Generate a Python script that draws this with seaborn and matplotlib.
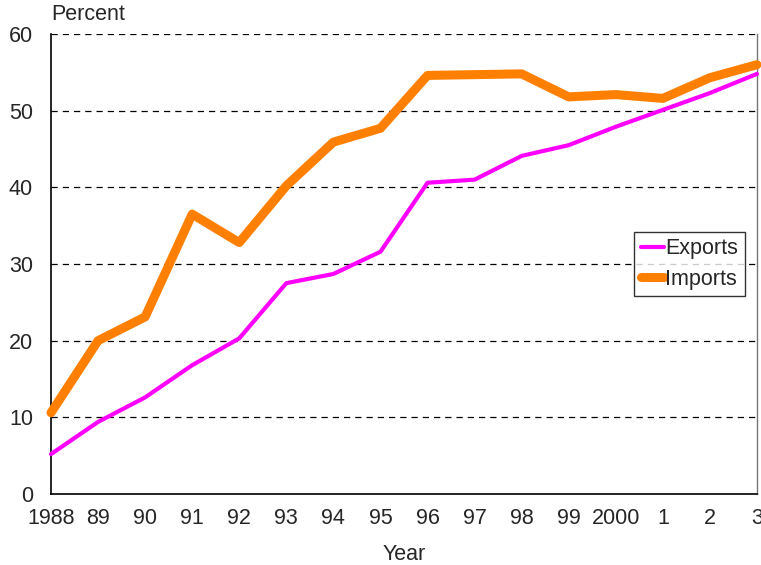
import matplotlib
matplotlib.use("Agg")
import matplotlib.pyplot as plt
import seaborn as sns
import pandas as pd

years = list(range(1988, 2004))
year_labels = ["1988", "89", "90", "91", "92", "93", "94", "95", "96", "97",
               "98", "99", "2000", "1", "2", "3"]
exports = [5.2, 9.4, 12.6, 16.8, 20.3, 27.5, 28.7, 31.6, 40.6, 41.0,
           44.1, 45.5, 47.9, 50.1, 52.3, 54.8]
imports = [10.6, 20.0, 23.1, 36.5, 32.8, 40.2, 45.9, 47.7, 54.6, 54.7,
           54.8, 51.8, 52.1, 51.6, 54.3, 56.0]

df = pd.DataFrame({"Year": years, "Exports": exports, "Imports": imports})

sns.set_style("white")
plt.rcParams["font.family"] = ["Liberation Sans", "DejaVu Sans"]

fig = plt.figure(figsize=(7.61, 5.65), dpi=100)
ax = fig.add_axes([0.067, 0.1257, 0.9277, 0.8141])

sns.lineplot(data=df, x="Year", y="Exports", ax=ax, color="#FF00FF",
             linewidth=3.0, label="Exports", clip_on=False, zorder=3,
             solid_capstyle="round")
sns.lineplot(data=df, x="Year", y="Imports", ax=ax, color="#FF8000",
             linewidth=6.5, label="Imports", clip_on=False, zorder=4,
             solid_capstyle="round")

ax.set_xlim(1988, 2003)
ax.set_ylim(0, 60)
ax.set_xticks(years)
ax.set_xticklabels(year_labels)
ax.set_yticks(range(0, 61, 10))
ax.tick_params(axis="both", length=0, labelsize=15.5)
ax.tick_params(axis="x", pad=10)
ax.tick_params(axis="y", pad=13)

# dashed horizontal gridlines
for v in range(10, 61, 10):
    ax.axhline(v, color="black", linestyle=(0, (5, 4)), linewidth=0.9, zorder=1)

for side in ["left", "bottom"]:
    ax.spines[side].set_color("black")
    ax.spines[side].set_linewidth(1.2)
ax.spines["right"].set_color("#777777")
ax.spines["right"].set_linewidth(1.0)
ax.spines["top"].set_visible(False)

ax.set_xlabel("Year", fontsize=15.5, labelpad=11)
ax.set_ylabel("")
fig.text(0.068, 0.955, "Percent", fontsize=15.5, ha="left", va="bottom")

leg = ax.legend(loc="upper left", bbox_to_anchor=(0.826, 0.57), borderaxespad=0,
                fontsize=15.5, frameon=True, fancybox=False, handlelength=1.1,
                handletextpad=0.05, borderpad=0.3, labelspacing=0.45)
leg.get_frame().set_edgecolor("black")
leg.get_frame().set_linewidth(1.0)
for line in leg.get_lines():
    line.set_solid_capstyle("round")

fig.savefig("out.png", dpi=100)
